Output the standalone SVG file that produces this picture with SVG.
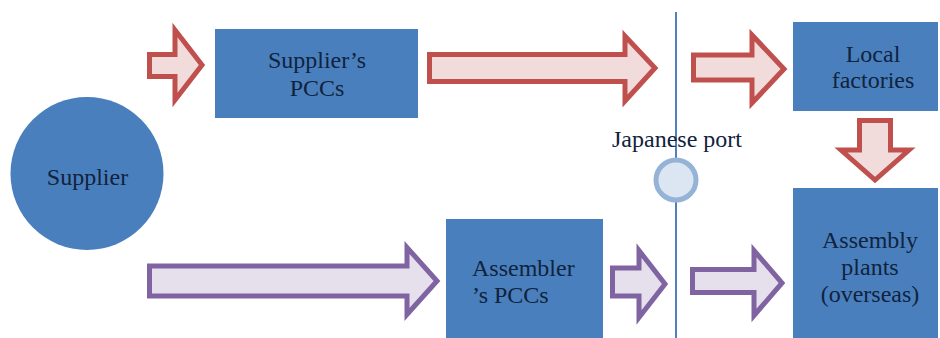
<svg xmlns="http://www.w3.org/2000/svg" width="940" height="338" viewBox="0 0 940 338">
<style>
.box{fill:#4a7fbd;}
.t{font-family:'Liberation Serif','Times New Roman','DejaVu Serif',serif;font-size:24px;fill:#10233d;}
.red{fill:#f2dcdb;stroke:#c0504d;stroke-width:5;stroke-linejoin:miter;}
.pur{fill:#e5e0ec;stroke:#8064a2;stroke-width:5;stroke-linejoin:miter;}
</style>
<rect width="940" height="338" fill="#ffffff"/>
<g id="port">
<line x1="676" y1="12" x2="676" y2="338" stroke="#4f81bd" stroke-width="2"/>
<circle cx="676" cy="180" r="20" fill="#dce6f2" stroke="#95b3d7" stroke-width="5"/>
<text class="t" x="677" y="147" text-anchor="middle">Japanese port</text>
</g>
<g id="supplier">
<circle cx="87" cy="173.5" r="76.5" class="box"/>
<text class="t" x="87.5" y="185" text-anchor="middle">Supplier</text>
</g>
<g id="supplier-pccs">
<rect x="215" y="29" width="203" height="89" class="box"/>
<text class="t" x="317" y="68" text-anchor="middle">Supplier’s</text>
<text class="t" x="317" y="96" text-anchor="middle">PCCs</text>
</g>
<g id="local-factories">
<rect x="793" y="22" width="145" height="89" class="box"/>
<text class="t" x="873" y="62" text-anchor="middle">Local</text>
<text class="t" x="873" y="88" text-anchor="middle">factories</text>
</g>
<g id="assembler-pccs">
<rect x="446" y="219" width="157" height="119" class="box"/>
<text class="t" x="472" y="276">Assembler</text>
<text class="t" x="472" y="303">’s PCCs</text>
</g>
<g id="assembly-plants">
<rect x="793" y="188" width="145" height="150" class="box"/>
<text class="t" x="870" y="248" text-anchor="middle">Assembly</text>
<text class="t" x="870" y="275" text-anchor="middle">plants</text>
<text class="t" x="870" y="302" text-anchor="middle">(overseas)</text>
</g>
<g id="connectors">
<polygon class="red" points="149.5,54.5 175,54.5 175,30 202,65 175,100 175,76.5 149.5,76.5"/>
<polygon class="red" points="429.5,54.5 625,54.5 625,36 655,68 625,101 625,81.5 429.5,81.5"/>
<polygon class="red" points="693.5,55 752,55 752,35 784,69 752,103 752,80 693.5,80"/>
<polygon class="red" points="859.5,120.5 890.5,120.5 890.5,150 909,150 875,180 841,150 859.5,150"/>
<polygon class="pur" points="149.5,266 407,266 407,247.5 437,281 407,314.5 407,296 149.5,296"/>
<polygon class="pur" points="612.5,268 639,268 639,250.5 665,284 639,317.5 639,296 612.5,296"/>
<polygon class="pur" points="692.5,269.5 754,269.5 754,250.5 782,283 754,315.5 754,292.5 692.5,292.5"/>
</g>
</svg>
